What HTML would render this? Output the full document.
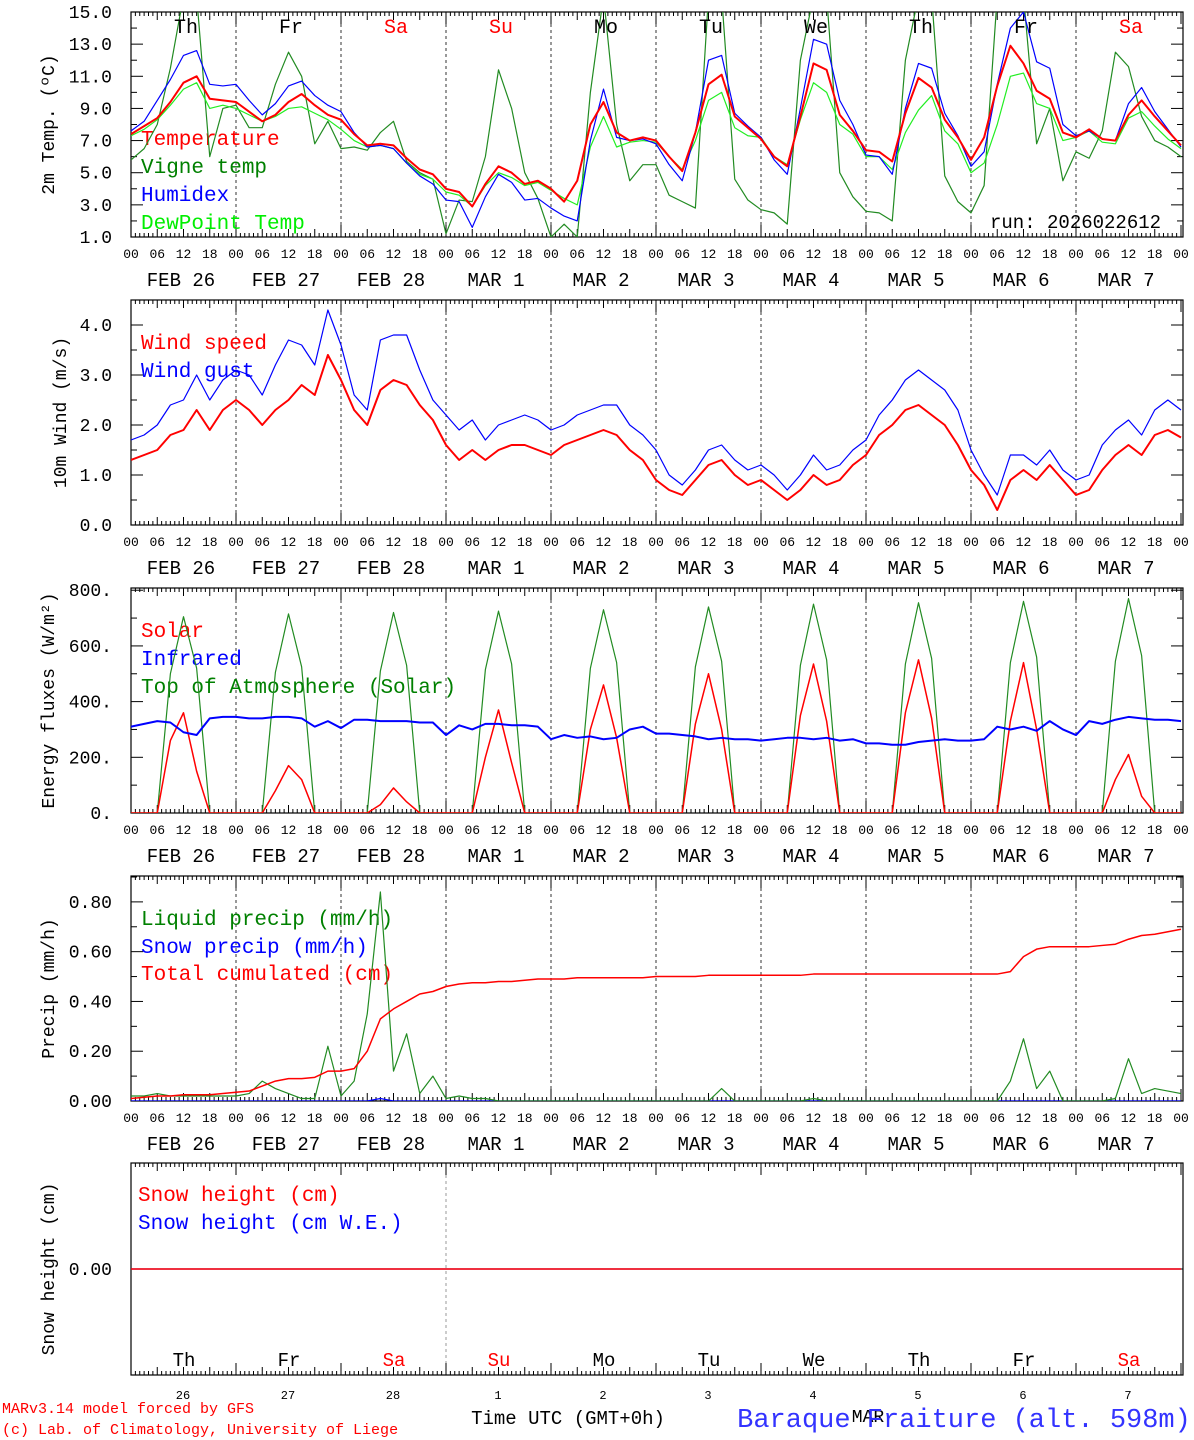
<!DOCTYPE html>
<html><head><meta charset="utf-8"><title>MAR meteogram</title>
<style>
html,body{margin:0;padding:0;background:#fff;}
svg{display:block;font-family:"Liberation Mono","DejaVu Sans Mono",monospace;}
</style></head>
<body>
<svg id="chart" width="1194" height="1440" viewBox="0 0 1194 1440" xmlns="http://www.w3.org/2000/svg"></svg>
<script>
// ---------- DATA (3-hourly, 00..21 per day, 10 days + final 00) ----------
const dayNames = ['Th','Fr','Sa','Su','Mo','Tu','We','Th','Fr','Sa'];
const dayNums = ['26','27','28','1','2','3','4','5','6','7'];
const dateLabels = ['FEB 26','FEB 27','FEB 28','MAR  1','MAR  2','MAR  3','MAR  4','MAR  5','MAR  6','MAR  7'];
const hourLabels = ['00','06','12','18'];

const temperature = [7.4,7.9,8.4,9.4,10.6,11.0,9.6,9.5, 9.4,8.8,8.2,8.6,9.4,9.9,9.2,8.6, 8.3,7.4,6.7,6.8,6.7,5.9,5.2,4.9, 4.0,3.8,2.9,4.3,5.4,5.0,4.3,4.5, 4.0,3.2,4.5,8.0,9.4,7.5,7.0,7.2, 7.0,6.0,5.1,7.5,10.5,11.1,8.5,7.8, 7.1,6.0,5.4,8.5,11.8,11.4,8.6,7.6, 6.4,6.3,5.7,8.7,10.9,10.3,8.3,7.2, 5.8,7.2,10.4,12.9,11.8,10.1,9.6,7.5, 7.2,7.7,7.1,7.0,8.6,9.5,8.5,7.6, 6.7];
const vigneTemp = [5.8,6.5,8.0,11.5,16,16,6.0,9.0, 9.2,7.8,7.8,10.5,12.5,11.0,6.8,8.2, 6.5,6.6,6.4,7.5,8.2,5.7,5.0,4.6, 1.2,3.3,3.2,6.0,11.4,9.0,5.0,3.4, 1.0,1.8,1.0,10.0,16,8.0,4.5,5.5, 5.5,3.6,3.2,2.8,16,16,4.6,3.3, 2.7,2.5,1.8,12,16,16,5.0,3.5, 2.6,2.5,2.0,12,16,16,4.8,3.2, 2.5,4.2,16,16,16,6.8,9.0,4.5, 6.3,5.9,7.6,12.5,11.6,8.5,7.0,6.6, 6.0];
const humidex = [7.6,8.2,9.5,10.8,12.3,12.6,10.5,10.4, 10.5,9.5,8.6,9.3,10.4,10.7,9.8,9.2, 8.8,7.5,6.6,6.7,6.5,5.6,4.8,4.3, 3.3,3.2,1.6,3.5,4.9,4.4,3.3,3.4, 2.8,2.3,2.0,7.0,10.2,7.2,7.0,7.1, 6.8,5.5,4.5,7.5,12.0,12.3,8.7,7.9, 7.2,5.8,4.9,9.0,13.3,13.0,9.5,8.0, 6.1,6.0,4.9,9.0,11.8,11.5,8.7,7.3, 5.4,6.3,10.5,14.0,15.0,11.9,11.5,8.0, 7.3,7.6,7.1,7.0,9.3,10.3,8.8,7.7, 6.6];
const dewPoint = [7.3,7.7,8.3,9.2,10.2,10.6,9.0,9.2, 9.0,8.6,8.2,8.5,9.0,9.1,8.7,8.3, 7.7,7.0,6.6,6.7,6.5,5.6,4.9,4.6, 3.8,3.6,2.9,4.2,5.0,4.7,4.2,4.4, 3.9,3.4,3.0,6.6,8.5,6.6,6.9,7.0, 6.9,6.0,5.2,7.0,9.5,10.0,7.8,7.3, 7.2,6.0,5.5,8.3,10.6,10.0,8.0,7.4, 6.0,6.0,5.2,7.5,8.9,9.8,7.6,6.8, 5.0,5.6,8.0,11.0,11.2,9.3,9.0,7.0, 7.2,7.6,6.9,6.8,8.4,8.8,7.9,7.1, 6.5];

const windSpeed = [1.3,1.4,1.5,1.8,1.9,2.3,1.9,2.3, 2.5,2.3,2.0,2.3,2.5,2.8,2.6,3.4, 2.9,2.3,2.0,2.7,2.9,2.8,2.4,2.1, 1.6,1.3,1.5,1.3,1.5,1.6,1.6,1.5, 1.4,1.6,1.7,1.8,1.9,1.8,1.5,1.3, 0.9,0.7,0.6,0.9,1.2,1.3,1.0,0.8, 0.9,0.7,0.5,0.7,1.0,0.8,0.9,1.2, 1.4,1.8,2.0,2.3,2.4,2.2,2.0,1.6, 1.1,0.8,0.3,0.9,1.1,0.9,1.2,0.9, 0.6,0.7,1.1,1.4,1.6,1.4,1.8,1.9, 1.75];
const windGust = [1.7,1.8,2.0,2.4,2.5,3.0,2.5,2.9, 3.1,3.0,2.6,3.2,3.7,3.6,3.2,4.3, 3.6,2.6,2.3,3.7,3.8,3.8,3.1,2.5, 2.2,1.9,2.1,1.7,2.0,2.1,2.2,2.1, 1.9,2.0,2.2,2.3,2.4,2.4,2.0,1.8, 1.5,1.0,0.8,1.1,1.5,1.6,1.3,1.1, 1.2,1.0,0.7,1.0,1.4,1.1,1.2,1.5, 1.7,2.2,2.5,2.9,3.1,2.9,2.7,2.3, 1.5,1.0,0.6,1.4,1.4,1.2,1.5,1.1, 0.9,1.0,1.6,1.9,2.1,1.8,2.3,2.5, 2.3];

const solar = [0,0,0,260,360,150,0,0, 0,0,0,80,170,120,0,0, 0,0,0,30,90,40,0,0, 0,0,0,200,370,180,0,0, 0,0,0,300,460,270,0,0, 0,0,0,320,500,300,0,0, 0,0,0,350,535,330,0,0, 0,0,0,360,550,340,0,0, 0,0,0,330,540,300,0,0, 0,0,0,120,210,60,0,0, 0];
const infrared = [310,320,330,325,290,280,340,345, 345,340,340,345,345,340,310,330, 305,335,335,330,330,330,325,325, 280,315,300,320,320,315,315,310, 265,280,270,275,265,270,300,310, 285,285,280,275,265,270,265,265, 260,265,270,270,265,270,260,265, 250,250,245,245,255,260,265,260, 260,265,310,300,310,295,330,300, 280,330,320,335,345,340,335,335, 330];
const toaSolar = [0,0,0,500,705,520,0,0, 0,0,0,505,715,525,0,0, 0,0,0,510,720,530,0,0, 0,0,0,515,725,535,0,0, 0,0,0,520,730,540,0,0, 0,0,0,525,740,545,0,0, 0,0,0,530,750,550,0,0, 0,0,0,535,755,555,0,0, 0,0,0,540,760,560,0,0, 0,0,0,545,770,565,0,0, 0];

const liquidPrecip = [0.02,0.02,0.03,0.02,0.02,0.02,0.02,0.02, 0.02,0.03,0.08,0.05,0.03,0.01,0.01,0.22, 0.02,0.08,0.35,0.84,0.12,0.27,0.03,0.10, 0.01,0.02,0.01,0.01,0,0,0,0, 0,0,0,0,0,0,0,0, 0,0,0,0,0,0.05,0,0, 0,0,0,0,0.01,0,0,0, 0,0,0,0,0,0,0,0, 0,0,0,0.08,0.25,0.05,0.12,0, 0,0,0,0.01,0.17,0.03,0.05,0.04, 0.03];
const snowPrecip = [0,0,0,0,0,0,0,0, 0,0,0,0,0,0,0,0, 0,0,0,0.01,0,0,0,0, 0,0,0,0,0,0,0,0, 0,0,0,0,0,0,0,0, 0,0,0,0,0,0,0,0, 0,0,0,0,0,0,0,0, 0,0,0,0,0,0,0,0, 0,0,0,0,0,0,0,0, 0,0,0,0,0,0,0,0, 0];
const cumulPrecip = [0.01,0.015,0.02,0.02,0.025,0.025,0.025,0.03, 0.035,0.04,0.06,0.08,0.09,0.09,0.095,0.12, 0.12,0.13,0.2,0.33,0.37,0.4,0.43,0.44, 0.46,0.47,0.475,0.475,0.48,0.48,0.485,0.49, 0.49,0.49,0.495,0.495,0.495,0.495,0.495,0.495, 0.5,0.5,0.5,0.5,0.505,0.505,0.505,0.505, 0.505,0.505,0.505,0.505,0.51,0.51,0.51,0.51, 0.51,0.51,0.51,0.51,0.51,0.51,0.51,0.51, 0.51,0.51,0.51,0.52,0.58,0.61,0.62,0.62, 0.62,0.62,0.625,0.63,0.65,0.665,0.67,0.68, 0.69];
const snowHeight = new Array(81).fill(0);
const snowHeightWE = new Array(81).fill(0);

// ---------- LAYOUT ----------
const NS = 'http://www.w3.org/2000/svg';
const svg = document.getElementById('chart');
const X0 = 131, X1 = 1183, PXH = 4.375; // px per hour
function xOf(i){ return X0 + i*3*PXH; }
function xHour(h){ return X0 + h*PXH; }
function mk(tag, parent){ const e = document.createElementNS(NS, tag); (parent||svg).appendChild(e); return e; }
function txt(parent, x, y, s, size, fill, anchor){
  const t = mk('text', parent);
  t.setAttribute('x', x); t.setAttribute('y', y);
  t.setAttribute('font-size', size); t.setAttribute('fill', fill || '#000');
  t.setAttribute('text-anchor', anchor || 'start');
  t.setAttribute('xml:space', 'preserve');
  t.textContent = s;
  return t;
}
function line(parent, x1, y1, x2, y2, stroke, w, dash){
  const l = mk('line', parent);
  l.setAttribute('x1', x1); l.setAttribute('y1', y1); l.setAttribute('x2', x2); l.setAttribute('y2', y2);
  l.setAttribute('stroke', stroke); l.setAttribute('stroke-width', w || 1);
  if (dash) l.setAttribute('stroke-dasharray', dash);
  return l;
}

const panels = [
  {name:'temperature-panel', top:12, bot:237, min:1, max:15, ticks:[1,3,5,7,9,11,13,15], minor:1, fmt:v=>v.toFixed(1), title:'2m Temp. (\u00BAC)', tcx:54},
  {name:'wind-panel', top:300, bot:525, min:0, max:4.5, ticks:[0,1,2,3,4], minor:0.5, fmt:v=>v.toFixed(1), title:'10m Wind (m/s)', tcx:66},
  {name:'energy-panel', top:588, bot:813, min:0, max:808, ticks:[0,200,400,600,800], minor:100, fmt:v=>v.toFixed(0)+'.', title:'Energy fluxes (W/m\u00B2)', tcx:54},
  {name:'precip-panel', top:876, bot:1101, min:0, max:0.904, ticks:[0,0.2,0.4,0.6,0.8], minor:0.1, fmt:v=>v.toFixed(2), title:'Precip (mm/h)', tcx:54},
  {name:'snow-panel', top:1163, bot:1375, min:-1, max:1, ticks:[0], minor:0, fmt:v=>v.toFixed(2), title:'Snow height (cm)', tcx:54}
];
function yScale(p){ return v => p.bot - (v - p.min)/(p.max - p.min)*(p.bot - p.top); }

panels.forEach((p, pi) => {
  const g = mk('g');
  
  
  const y = yScale(p);
  const r = mk('rect', g);
  r.setAttribute('x', X0); r.setAttribute('y', p.top); r.setAttribute('width', X1-X0); r.setAttribute('height', p.bot-p.top);
  r.setAttribute('fill', 'none'); r.setAttribute('stroke', '#000'); r.setAttribute('stroke-width', 1.2);
  
  
  for (let d=1; d<10; d++){
    const lx = X0 + d*105;
    if (pi < 4){
      const dl = line(g, lx, p.top, lx, p.bot, '#333', 1, '3,3');
      
      
    } else if (d === 3){
      const dl = line(g, lx, p.top, lx, p.bot, '#999', 1, '3,3');
      
      
    }
  }
  for (let h=0; h<=240; h++){
    const tx = xHour(h);
    const len = (h % 24 === 0) ? 12 : (h % 6 === 0 ? 8 : 4);
    line(g, tx, p.top, tx, p.top+len, '#000', 1);
    line(g, tx, p.bot, tx, p.bot-len, '#000', 1);
  }
  if (p.minor){
    for (let v=p.min; v<=p.max+1e-9; v+=p.minor){
      const ty = y(v);
      const major = p.ticks.some(t=>Math.abs(t-v)<1e-6);
      const len = major ? 12 : 6;
      line(g, X0, ty, X0+len, ty, '#000', 1);
      line(g, X1, ty, X1-len, ty, '#000', 1);
    }
  } else {
    line(g, X0, y(0), X0+12, y(0), '#000', 1);
    line(g, X1, y(0), X1-12, y(0), '#000', 1);
  }
  p.ticks.forEach(t => {
    const tl = txt(g, 112, y(t)+6, p.fmt(t), 18, '#000', 'end');
    
    
  });
  const yt = txt(g, 0, 0, p.title, 18, '#000', 'middle');
  yt.setAttribute('transform', 'translate(' + p.tcx + ',' + ((p.top+p.bot)/2) + ') rotate(-90)');
  
  
  if (pi < 4){
    for (let d=0; d<=10; d++){
      for (let k=0; k<4; k++){
        if (d===10 && k>0) break;
        const hl = txt(g, X0 + d*105 + k*26.25, p.bot+21, hourLabels[k], 13, '#000', 'middle');
        
        
      }
    }
    for (let d=0; d<10; d++){
      const dl = txt(g, X0 + d*105 + 50, p.bot+49, dateLabels[d], 19, '#000', 'middle');
      
      
    }
  }
  p.g = g; p.y = y;
});

const defs = mk('defs');
panels.forEach((p, pi) => {
  const cp = mk('clipPath', defs);
  cp.setAttribute('id', 'clip'+pi);
  const cr = mk('rect', cp);
  cr.setAttribute('x', X0); cr.setAttribute('y', p.top); cr.setAttribute('width', X1-X0); cr.setAttribute('height', p.bot-p.top);
});

function series(pi, data, color, width, name){
  const p = panels[pi];
  const pts = data.map((v,i) => xOf(i).toFixed(2) + ',' + p.y(v).toFixed(2)).join(' ');
  const pl = mk('polyline', p.g);
  pl.setAttribute('points', pts);
  pl.setAttribute('fill', 'none');
  pl.setAttribute('stroke', color);
  pl.setAttribute('stroke-width', width);
  pl.setAttribute('stroke-linejoin', 'round');
  pl.setAttribute('clip-path', 'url(#clip'+pi+')');
  
  
}
function legend(pi, x, y, s, color, name){
  const t = txt(panels[pi].g, x, y, s, 21, color, 'start');
  
  
}

legend(0, 141, 145, 'Temperature', '#ff0000', 'legend-temperature');
legend(0, 141, 173, 'Vigne temp', '#008000', 'legend-vigne-temp');
legend(0, 141, 201, 'Humidex', '#0000ff', 'legend-humidex');
legend(0, 141, 229, 'DewPoint Temp', '#00ee00', 'legend-dewpoint');
series(0, vigneTemp, '#228b22', 1.2, 'vigne-temp-line');
series(0, dewPoint, '#22ee22', 1.2, 'dewpoint-line');
series(0, humidex, '#0000ff', 1.2, 'humidex-line');
series(0, temperature, '#ff0000', 2, 'temperature-line');
for (let d=0; d<10; d++){
  const dn = txt(panels[0].g, X0 + d*105 + 55, 33, dayNames[d], 20, (dayNames[d]==='Sa'||dayNames[d]==='Su') ? '#ff0000' : '#000', 'middle');
  
  
}
const run = txt(panels[0].g, 990, 228, 'run: 2026022612', 19, '#000', 'start');



legend(1, 141, 349, 'Wind speed', '#ff0000', 'legend-wind-speed');
legend(1, 141, 377, 'Wind gust', '#0000ff', 'legend-wind-gust');
series(1, windGust, '#0000ff', 1.2, 'wind-gust-line');
series(1, windSpeed, '#ff0000', 2, 'wind-speed-line');

legend(2, 141, 637, 'Solar', '#ff0000', 'legend-solar');
legend(2, 141, 665, 'Infrared', '#0000ff', 'legend-infrared');
legend(2, 141, 693, 'Top of Atmosphere (Solar)', '#008000', 'legend-toa-solar');
series(2, toaSolar, '#228b22', 1.2, 'toa-solar-line');
series(2, solar, '#ff0000', 1.5, 'solar-line');
series(2, infrared, '#0000ff', 2, 'infrared-line');

legend(3, 141, 925, 'Liquid precip (mm/h)', '#008000', 'legend-liquid-precip');
legend(3, 141, 953, 'Snow precip (mm/h)', '#0000ff', 'legend-snow-precip');
legend(3, 141, 980, 'Total cumulated (cm)', '#ff0000', 'legend-total-cumulated');
series(3, snowPrecip, '#0000ff', 1.2, 'snow-precip-line');
series(3, liquidPrecip, '#228b22', 1.2, 'liquid-precip-line');
series(3, cumulPrecip, '#ff0000', 1.5, 'cumulated-precip-line');

legend(4, 138, 1201, 'Snow height (cm)', '#ff0000', 'legend-snow-height');
legend(4, 138, 1229, 'Snow height (cm W.E.)', '#0000ff', 'legend-snow-height-we');
series(4, snowHeightWE, '#0000ff', 1.2, 'snow-height-we-line');
series(4, snowHeight, '#ff0000', 1.5, 'snow-height-line');
for (let d=0; d<10; d++){
  const dn = txt(panels[4].g, X0 + d*105 + 53, 1366, dayNames[d], 19, (dayNames[d]==='Sa'||dayNames[d]==='Su') ? '#ff0000' : '#000', 'middle');
  
  
  const nn = txt(panels[4].g, X0 + d*105 + 52, 1399, dayNums[d], 12, '#000', 'middle');
  
  
}
const mar = txt(svg, 868, 1422, 'MAR', 18, '#000', 'middle');


const xt = txt(svg, 568, 1424, 'Time UTC (GMT+0h)', 19, '#000', 'middle');


const st = txt(svg, 964, 1427, 'Baraque Fraiture (alt. 598m)', 27, '#3333ff', 'middle');


const c1 = txt(svg, 2, 1413, 'MARv3.14 model forced by GFS', 15, '#ff0000', 'start');


const c2 = txt(svg, 2, 1434, '(c) Lab. of Climatology, University of Liege', 15, '#ff0000', 'start');


</script>
</body></html>
